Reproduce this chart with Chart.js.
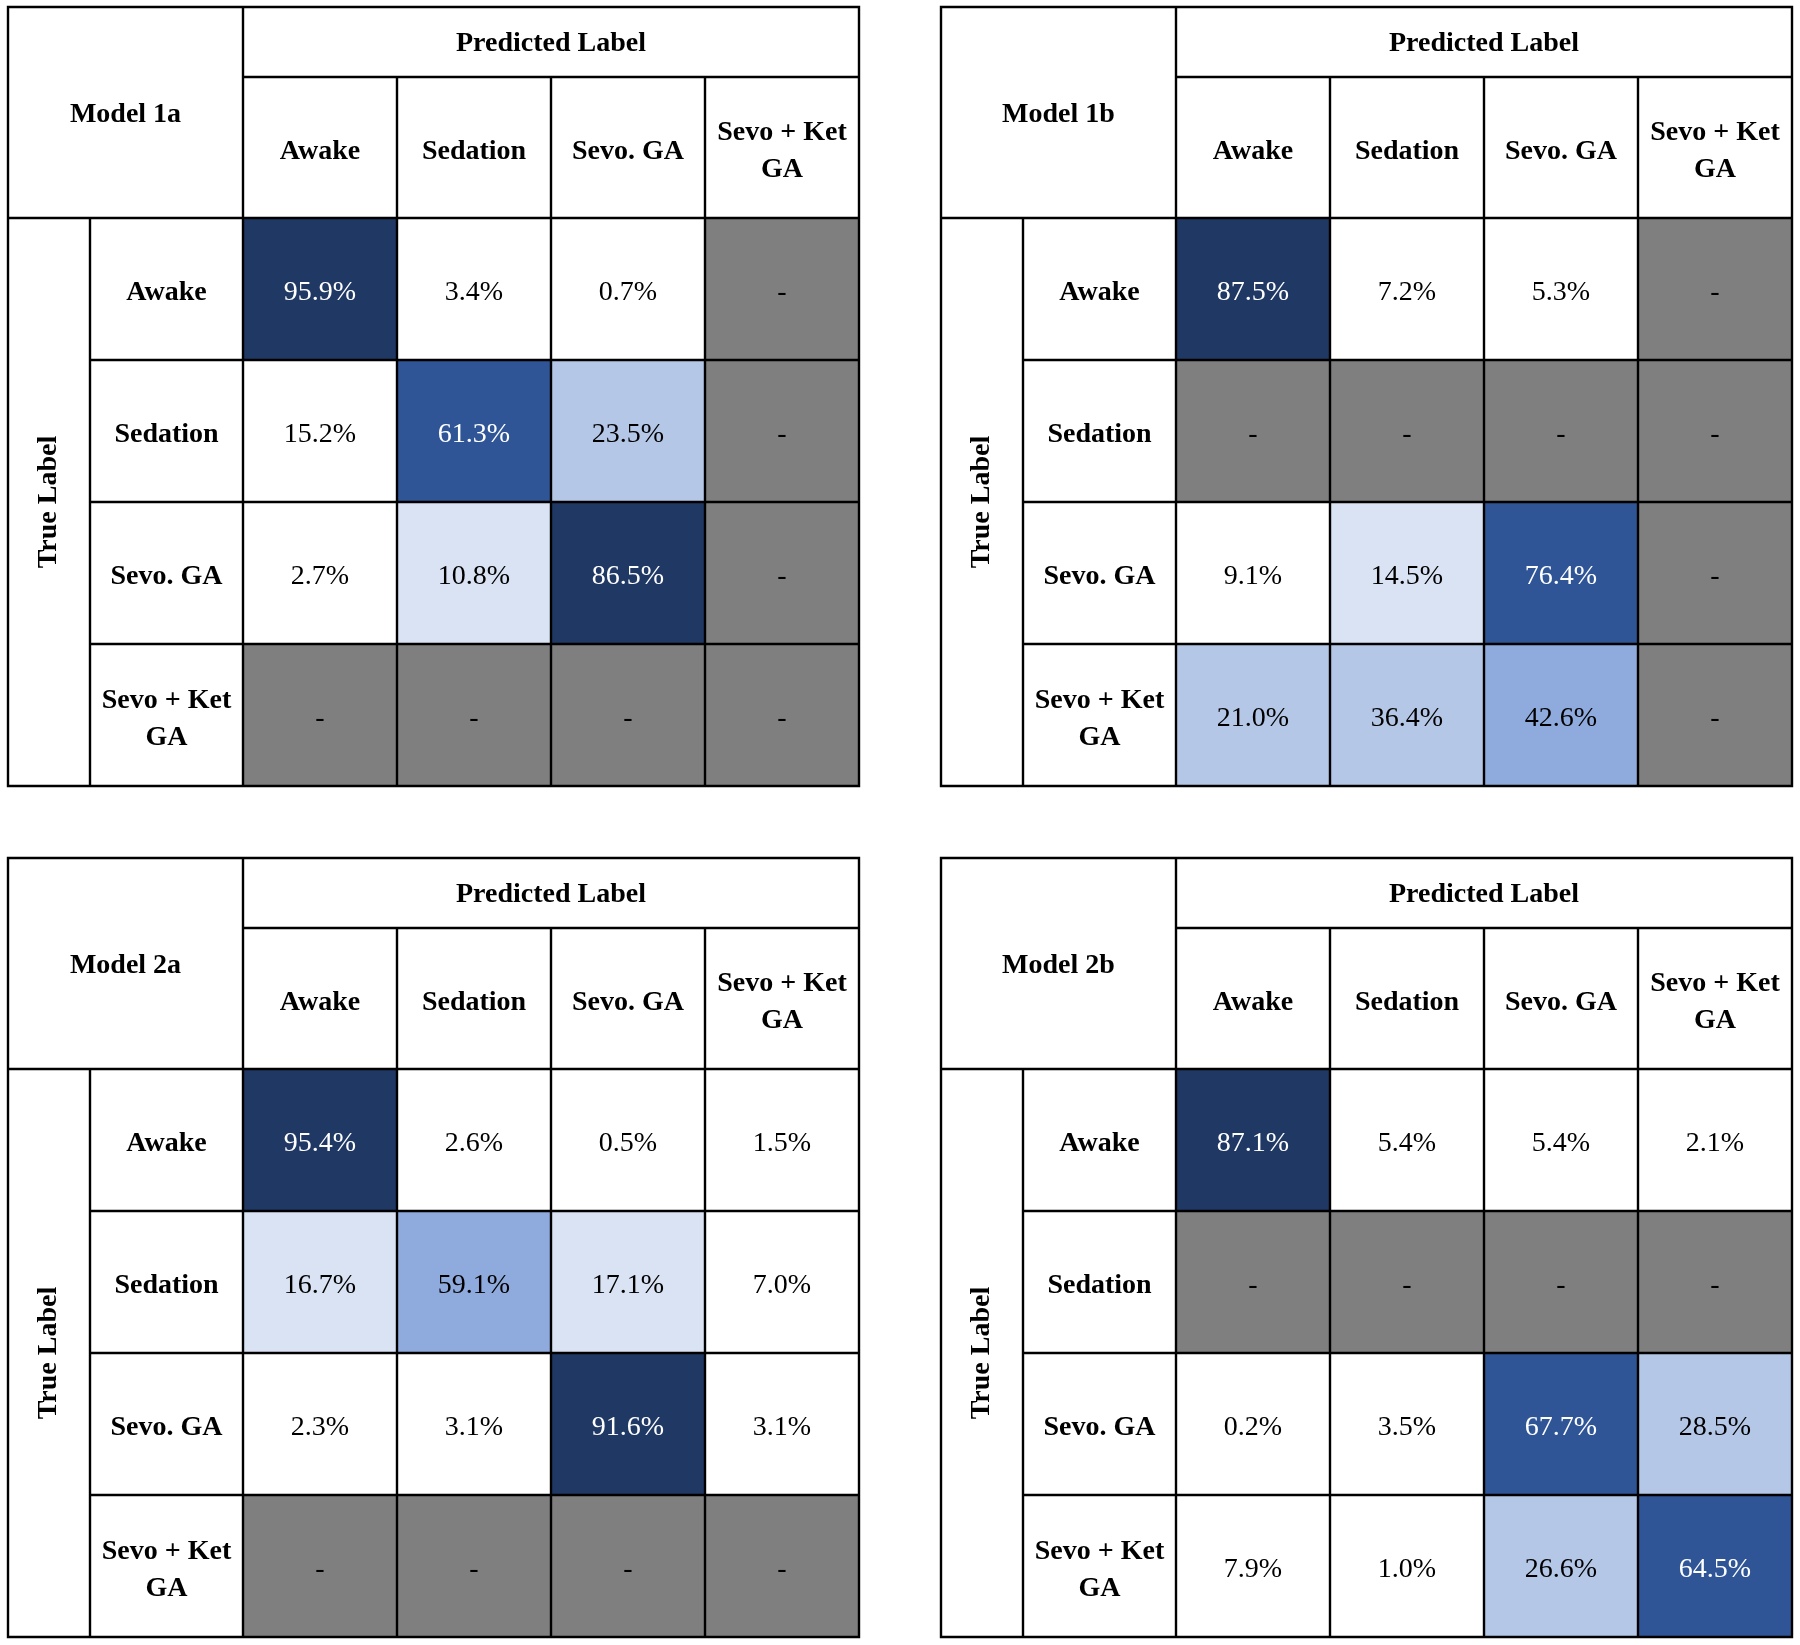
<!DOCTYPE html>
<html>
<head>
<meta charset="utf-8">
<script src="https://cdn.jsdelivr.net/npm/chart.js@4.4.1/dist/chart.umd.min.js"></script>
<style>
  body { margin: 0; background: #fff; }
  #page { position: relative; width: 1800px; height: 1645px; background: #fff; }
  .panel { position: absolute; }
</style>
</head>
<body>
<div id="page">
  <canvas id="chart1a" class="panel" width="859" height="787" style="left:4px;top:3px"></canvas>
  <canvas id="chart1b" class="panel" width="859" height="787" style="left:937px;top:3px"></canvas>
  <canvas id="chart2a" class="panel" width="859" height="787" style="left:4px;top:854px"></canvas>
  <canvas id="chart2b" class="panel" width="859" height="787" style="left:937px;top:854px"></canvas>
</div>
<script>
// Categories
const predictedLabels = ['Awake', 'Sedation', 'Sevo. GA', ['Sevo + Ket', 'GA']];
const trueLabels = ['Awake', 'Sedation', 'Sevo. GA', ['Sevo + Ket', 'GA']];

// Percentages per true-label row (null = no data, shown as "-")
const model1a = [
    [95.9, 3.4, 0.7, null],
    [15.2, 61.3, 23.5, null],
    [2.7, 10.8, 86.5, null],
    [null, null, null, null]
];
const model1b = [
    [87.5, 7.2, 5.3, null],
    [null, null, null, null],
    [9.1, 14.5, 76.4, null],
    [21.0, 36.4, 42.6, null]
];
const model2a = [
    [95.4, 2.6, 0.5, 1.5],
    [16.7, 59.1, 17.1, 7.0],
    [2.3, 3.1, 91.6, 3.1],
    [null, null, null, null]
];
const model2b = [
    [87.1, 5.4, 5.4, 2.1],
    [null, null, null, null],
    [0.2, 3.5, 67.7, 28.5],
    [7.9, 1.0, 26.6, 64.5]
];

// cells left white in the original even though their value would be shaded [row, col]
const unshaded1a = [[1, 0]];

const panels = [
    { id: 'chart1a', title: 'Model 1a', values: model1a, unshaded: unshaded1a },
    { id: 'chart1b', title: 'Model 1b', values: model1b, unshaded: [] },
    { id: 'chart2a', title: 'Model 2a', values: model2a, unshaded: [] },
    { id: 'chart2b', title: 'Model 2b', values: model2b, unshaded: [] }
];

// Header geometry (px)
const HEAD_TOP = 70;     // "Predicted Label" row
const HEAD_COLS = 141;   // column names row
const TRUE_COL = 82;     // "True Label" column
const ROW_HEAD = 153;    // row names column
const PAD = 4;
const LINE_H = 37;
const SHIFT = 4;         // serif glyphs sit a bit low in the original
const SERIF = '"Liberation Serif", "Times New Roman", serif';

function cellColor(v) {
    if (v === null) return '#7F7F7F';
    if (v >= 80) return '#203864';
    if (v >= 60) return '#2F5597';
    if (v >= 40) return '#8FAADC';
    if (v >= 20) return '#B4C7E7';
    if (v >= 10) return '#DAE3F3';
    return '#FFFFFF';
}

function textColor(v) {
    return v !== null && v >= 60 ? '#FFFFFF' : '#000000';
}

function rowColors(panel, r) {
    return panel.values[r].map((v, c) =>
        panel.unshaded.some(([ur, uc]) => ur === r && uc === c) ? '#FFFFFF' : cellColor(v));
}

function drawLines(ctx, text, x, y) {
    const lines = Array.isArray(text) ? text : [text];
    const start = y - (lines.length - 1) * LINE_H / 2;
    lines.forEach((line, i) => ctx.fillText(line, x, start + i * LINE_H));
}

// Draws the table frame, header texts and the cell values
const tableFrame = {
    id: 'tableFrame',
    afterDraw(chart, args, opts) {
        const ctx = chart.ctx;
        const area = chart.chartArea;
        const xs = chart.scales.x;
        const ys = chart.scales.y;
        const n = predictedLabels.length;

        const left0 = area.left - ROW_HEAD - TRUE_COL;
        const top0 = area.top - HEAD_COLS - HEAD_TOP;
        const trueRight = left0 + TRUE_COL;
        const headMid = top0 + HEAD_TOP;

        const colEdges = [area.left];
        for (let i = 0; i < n - 1; i++) {
            colEdges.push((xs.getPixelForValue(i) + xs.getPixelForValue(i + 1)) / 2);
        }
        colEdges.push(area.right);
        const rowEdges = [];
        for (let i = 0; i <= trueLabels.length; i++) rowEdges.push(ys.getPixelForValue(i));

        ctx.save();
        ctx.textAlign = 'center';
        ctx.textBaseline = 'middle';

        // cell values
        ctx.font = '28px ' + SERIF;
        chart.data.datasets.forEach((ds, r) => {
            const meta = chart.getDatasetMeta(r);
            meta.data.forEach((bar, c) => {
                const v = opts.values[r][c];
                const p = bar.getCenterPoint();
                ctx.fillStyle = textColor(v);
                ctx.fillText(v === null ? '-' : v.toFixed(1) + '%', p.x, p.y + SHIFT);
            });
        });

        // header texts
        ctx.fillStyle = '#000000';
        ctx.font = 'bold 28px ' + SERIF;
        ctx.fillText(opts.title, (left0 + area.left) / 2, (top0 + area.top) / 2 + 2);
        ctx.fillText('Predicted Label', (area.left + area.right) / 2, (top0 + headMid) / 2 + 2);
        predictedLabels.forEach((lab, i) => {
            drawLines(ctx, lab, xs.getPixelForValue(i), (headMid + area.top) / 2 + SHIFT);
        });
        trueLabels.forEach((lab, i) => {
            drawLines(ctx, lab, (trueRight + area.left) / 2, (rowEdges[i] + rowEdges[i + 1]) / 2 + SHIFT);
        });
        ctx.save();
        ctx.translate((left0 + trueRight) / 2, (area.top + area.bottom) / 2);
        ctx.rotate(-Math.PI / 2);
        ctx.fillText('True Label', 0, 0);
        ctx.restore();

        // grid lines
        ctx.strokeStyle = '#000000';
        ctx.lineWidth = 2.4;
        ctx.beginPath();
        ctx.rect(left0, top0, area.right - left0, area.bottom - top0);
        ctx.moveTo(left0, area.top); ctx.lineTo(area.right, area.top);
        ctx.moveTo(area.left, headMid); ctx.lineTo(area.right, headMid);
        ctx.moveTo(area.left, top0); ctx.lineTo(area.left, area.bottom);
        ctx.moveTo(trueRight, area.top); ctx.lineTo(trueRight, area.bottom);
        colEdges.slice(1, -1).forEach(x => { ctx.moveTo(x, headMid); ctx.lineTo(x, area.bottom); });
        rowEdges.slice(1, -1).forEach(y => { ctx.moveTo(trueRight, y); ctx.lineTo(area.right, y); });
        ctx.stroke();
        ctx.restore();
    }
};

panels.forEach(panel => {
    new Chart(document.getElementById(panel.id), {
        type: 'bar',
        data: {
            labels: predictedLabels.map(l => Array.isArray(l) ? l.join(' ') : l),
            datasets: trueLabels.map((lab, r) => ({
                label: Array.isArray(lab) ? lab.join(' ') : lab,
                data: predictedLabels.map(() => 1),
                backgroundColor: rowColors(panel, r),
                borderWidth: 0,
                barPercentage: 1,
                categoryPercentage: 1
            }))
        },
        options: {
            responsive: false,
            animation: false,
            devicePixelRatio: 1,
            layout: {
                padding: {
                    left: PAD + TRUE_COL + ROW_HEAD,
                    top: PAD + HEAD_TOP + HEAD_COLS,
                    right: PAD,
                    bottom: PAD
                }
            },
            plugins: {
                legend: { display: false },
                tooltip: { enabled: false },
                tableFrame: { title: panel.title, values: panel.values }
            },
            scales: {
                x: { display: false, stacked: true },
                y: { display: false, stacked: true, min: 0, max: 4, reverse: true }
            }
        },
        plugins: [tableFrame]
    });
});

console.log('Confusion matrices drawn');
</script>
</body>
</html>
